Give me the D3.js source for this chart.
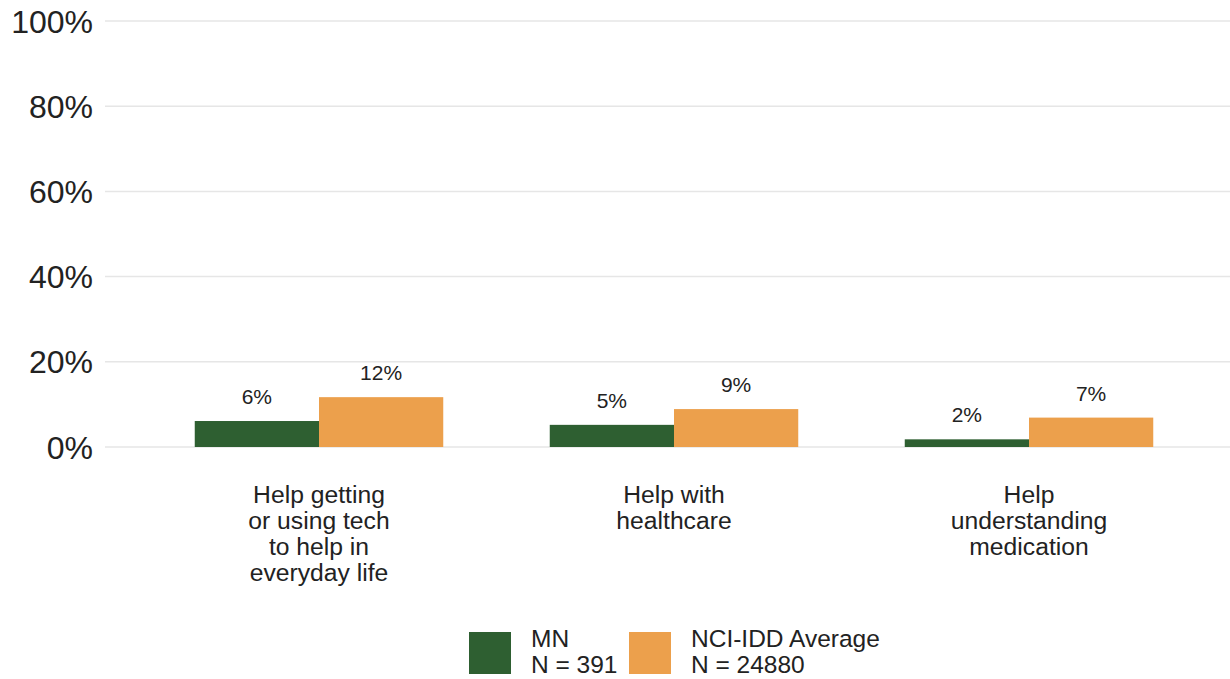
<!DOCTYPE html>
<html><head><meta charset="utf-8">
<script src="https://cdn.jsdelivr.net/npm/d3@7"></script>
<style>body{margin:0;background:#fff}svg{display:block;font-family:"Liberation Sans",Arial,sans-serif}</style>
</head><body><svg id="c" width="1230" height="679"></svg>
<script>
const categories = [["Help getting","or using tech","to help in","everyday life"],["Help with","healthcare"],["Help","understanding","medication"]];
const categoryKeys = ["tech","healthcare","medication"];
const seriesNames = ["MN","NCI-IDD Average"];
const seriesN = ["N = 391","N = 24880"];
const mnValues = [6.1, 5.2, 1.8];
const nciValues = [11.7, 8.9, 6.9];
const valueLabels = [["6%","5%","2%"],["12%","9%","7%"]];
const yTicks = [0,20,40,60,80,100];
const colors = ["#2e5f31","#eca04c"];

const svg = d3.select("#c");
const y = d3.scaleLinear().domain([0,100]).range([447,21]);
const x = d3.scaleBand().domain(categoryKeys).range([141.5,1206.5]).paddingInner(0.3).paddingOuter(0.15);
const xs = d3.scaleBand().domain([0,1]).range([0,x.bandwidth()]);

svg.append("g").selectAll("line").data(yTicks).join("line")
  .attr("x1",105).attr("x2",1230).attr("y1",d=>y(d)).attr("y2",d=>y(d))
  .attr("stroke","#e6e6e6").attr("stroke-width",1.5);
svg.append("g").selectAll("text").data(yTicks).join("text")
  .attr("x",93).attr("y",d=>y(d)).attr("dy","0.36em").attr("text-anchor","end")
  .attr("font-size",32).attr("fill","#222").text(d=>d+"%");

const series = [mnValues,nciValues];
series.forEach((vals,si)=>{
  const g = svg.append("g");
  g.selectAll("rect").data(vals).join("rect")
    .attr("x",(d,i)=>x(categoryKeys[i])+xs(si)).attr("width",xs.bandwidth())
    .attr("y",d=>y(d)).attr("height",d=>y(0)-y(d)).attr("fill",colors[si]);
  g.selectAll("text").data(vals).join("text")
    .attr("x",(d,i)=>x(categoryKeys[i])+xs(si)+xs.bandwidth()/2)
    .attr("y",d=>y(d)-17).attr("text-anchor","middle").attr("font-size",21).attr("fill","#222")
    .text((d,i)=>valueLabels[si][i]);
});

categories.forEach((lines,i)=>{
  const cx = x(categoryKeys[i])+x.bandwidth()/2;
  const t = svg.append("text").attr("text-anchor","middle").attr("font-size",24.7).attr("fill","#222")
    .attr("x",cx).attr("y",503);
  lines.forEach((l,j)=>t.append("tspan").attr("x",cx).attr("dy",j?26:0).text(l));
});

const legX = [469,629];
seriesNames.forEach((n,i)=>{
  svg.append("rect").attr("x",legX[i]).attr("y",632).attr("width",42).attr("height",42).attr("fill",colors[i]);
  const t = svg.append("text").attr("font-size",24.5).attr("fill","#222").attr("x",legX[i]+62).attr("y",647);
  t.append("tspan").attr("x",legX[i]+62).text(n);
  t.append("tspan").attr("x",legX[i]+62).attr("dy",26).text(seriesN[i]);
});
</script></body></html>
